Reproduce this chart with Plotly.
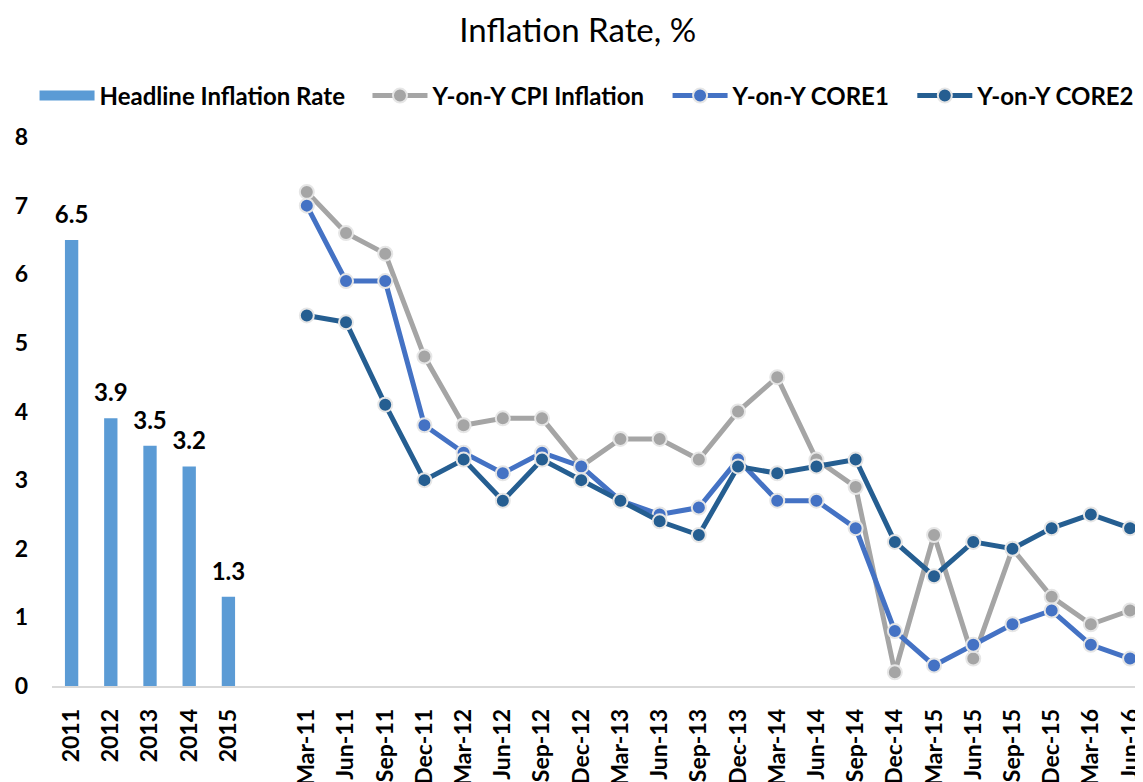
import plotly.graph_objects as go

years = ["2011", "2012", "2013", "2014", "2015"]
headline = [6.5, 3.9, 3.5, 3.2, 1.3]

quarters = ["Mar-11", "Jun-11", "Sep-11", "Dec-11", "Mar-12", "Jun-12", "Sep-12", "Dec-12",
            "Mar-13", "Jun-13", "Sep-13", "Dec-13", "Mar-14", "Jun-14", "Sep-14", "Dec-14",
            "Mar-15", "Jun-15", "Sep-15", "Dec-15", "Mar-16", "Jun-16"]
cpi = [7.2, 6.6, 6.3, 4.8, 3.8, 3.9, 3.9, 3.2, 3.6, 3.6, 3.3, 4.0, 4.5, 3.3, 2.9, 0.2,
       2.2, 0.4, 2.0, 1.3, 0.9, 1.1]
core1 = [7.0, 5.9, 5.9, 3.8, 3.4, 3.1, 3.4, 3.2, 2.7, 2.5, 2.6, 3.3, 2.7, 2.7, 2.3, 0.8,
         0.3, 0.6, 0.9, 1.1, 0.6, 0.4]
core2 = [5.4, 5.3, 4.1, 3.0, 3.3, 2.7, 3.3, 3.0, 2.7, 2.4, 2.2, 3.2, 3.1, 3.2, 3.3, 2.1,
         1.6, 2.1, 2.0, 2.3, 2.5, 2.3]
gap = [" "]
categories = years + gap + quarters

FONT = "Lato"
BAR_COLOR = "#5B9BD5"
PAD = "\u00a0\u00a0\u00a0"  # spacing after legend entries

fig = go.Figure()
fig.add_trace(go.Bar(
    x=years, y=headline, name="Headline Inflation Rate", showlegend=False,
    marker=dict(color=BAR_COLOR, line=dict(width=0)),
    width=0.34,
))
# legend entry for the bars drawn as a wide swatch
fig.add_trace(go.Scatter(
    x=years[:1], y=[None], name="Headline Inflation Rate" + PAD, mode="lines",
    line=dict(color=BAR_COLOR, width=15), hoverinfo="skip",
))
# data labels above the bars
fig.add_trace(go.Scatter(
    x=years, y=headline, mode="markers+text", showlegend=False, hoverinfo="skip",
    marker=dict(size=16, opacity=0),
    text=[f"{v:.1f}" for v in headline], textposition="top center",
    textfont=dict(family=FONT, size=24, color="#000000", weight="bold"),
    cliponaxis=False,
))
fig.add_trace(go.Scatter(x=gap, y=[None], mode="markers", showlegend=False, hoverinfo="skip"))

series = [
    ("Y-on-Y CPI Inflation" + PAD, cpi, "#A5A5A5"),
    ("Y-on-Y CORE1" + PAD, core1, "#4472C4"),
    ("Y-on-Y CORE2", core2, "#255E91"),
]
for name, vals, col in series:
    fig.add_trace(go.Scatter(
        x=quarters, y=vals, name=name, mode="lines+markers",
        line=dict(color=col, width=5),
        marker=dict(color=col, size=14, line=dict(color="#E6E6E6", width=2)),
        cliponaxis=False,
    ))

# page body has an 8px margin, so the figure is 8px smaller and offset accordingly
fig.update_layout(
    width=1135, height=774,
    margin=dict(l=44, r=0, t=129, b=96, autoexpand=False),
    paper_bgcolor="white", plot_bgcolor="white",
    font=dict(family=FONT, color="#000000"),
    title=dict(text="Inflation Rate, %", x=0.502, xanchor="center", y=0.9716, yanchor="middle",
               font=dict(family=FONT, size=33, color="#000000")),
    legend=dict(orientation="h", x=-0.016, xanchor="left", y=1.0747, yanchor="middle",
                font=dict(family=FONT, size=24, color="#000000", weight="bold"),
                itemwidth=55, bgcolor="rgba(0,0,0,0)"),
    bargap=0.6,
    showlegend=True,
)
fig.update_xaxes(
    type="category", categoryorder="array", categoryarray=categories,
    range=[-0.5, 27.33], tickangle=-90, showgrid=False, automargin=False,
    showline=True, linecolor="#D9D9D9", linewidth=1.5,
    ticks="", ticklabelstandoff=12,
    tickfont=dict(family=FONT, size=23, color="#000000", weight="bold"),
)
fig.update_yaxes(
    range=[0, 8], dtick=1, showgrid=False, zeroline=False, showline=False, automargin=False,
    ticks="", ticklabelstandoff=23,
    tickfont=dict(family=FONT, size=23, color="#000000", weight="bold"),
)

fig.write_html("out.html")
